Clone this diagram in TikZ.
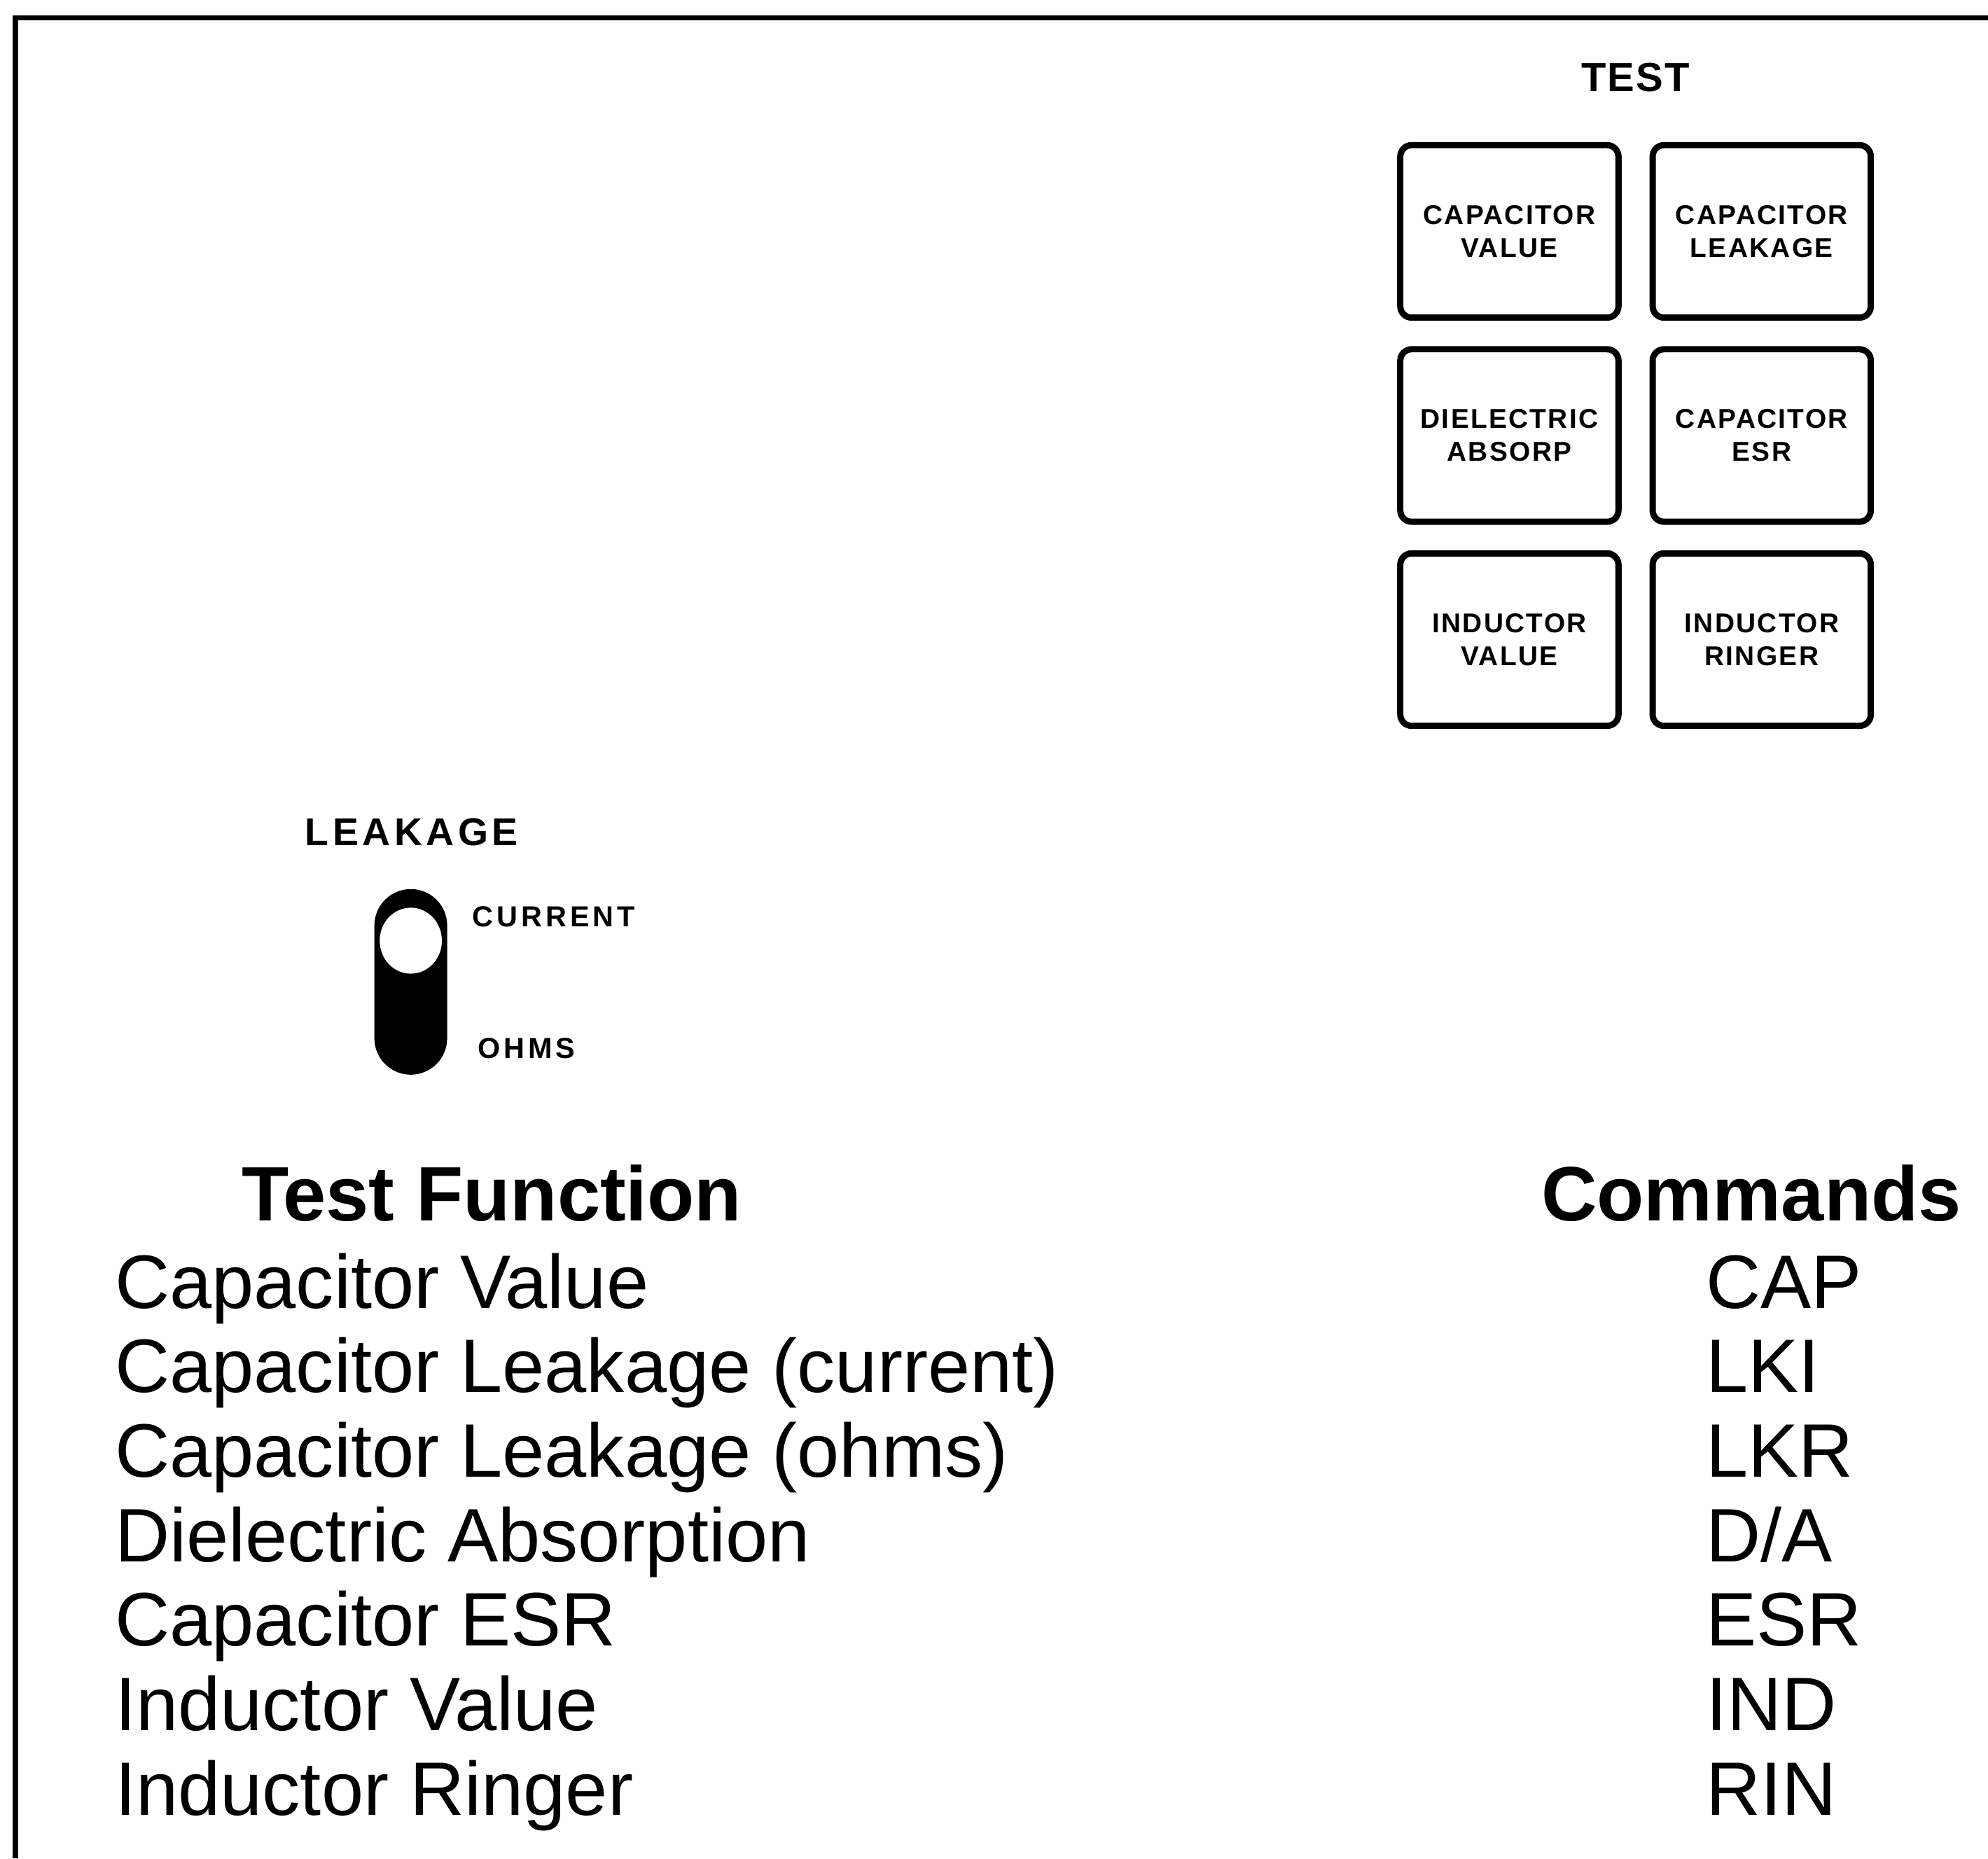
\documentclass[tikz,border=0pt]{standalone}
\usepackage{fontspec}
\setmainfont{Liberation Sans}
\usetikzlibrary{positioning}

\tikzset{
	button/.style={draw, line width=1.4pt, rounded corners=0.09cm, minimum width=1.72cm, minimum height=1.36cm, inner sep=0pt, align=center, font=\fontsize{6.1}{7.4}\selectfont\bfseries\addfontfeature{LetterSpace=6}},
	panel/.style={inner sep=0pt, anchor=base west, font=\bfseries\addfontfeature{LetterSpace=10}},
	entry/.style={inner sep=0pt, anchor=base west, font=\fontsize{17}{20}\selectfont},
	heading/.style={inner sep=0pt, anchor=base west, font=\fontsize{17.3}{20}\selectfont\bfseries}
}

\begin{document}
\begin{tikzpicture}[x=0.01cm, y=-0.01cm]
	\useasboundingbox (0,0) rectangle (1568,1466);
	\draw[line width=1.2pt] (12,1466) -- (12,14) -- (1568,14);

	% test buttons
	\node[panel, anchor=base, font=\fontsize{9.1}{11}\selectfont\bfseries\addfontfeature{LetterSpace=4}] (Test) at (1290,72) {TEST};
	\node[button] (CapValue) at (1190.5,182.5) {CAPACITOR\\VALUE};
	\node[button, right=0.22cm of CapValue] (CapLeakage) {CAPACITOR\\LEAKAGE};
	\node[button, below=0.2cm of CapValue] (Dielectric) {DIELECTRIC\\ABSORP};
	\node[button, right=0.22cm of Dielectric] (CapESR) {CAPACITOR\\ESR};
	\node[button, below=0.2cm of Dielectric] (IndValue) {INDUCTOR\\VALUE};
	\node[button, right=0.22cm of IndValue] (IndRinger) {INDUCTOR\\RINGER};

	% leakage switch
	\node[panel, font=\fontsize{8.7}{10}\selectfont\bfseries\addfontfeature{LetterSpace=10}] (Leakage) at (240,667) {LEAKAGE};
	\draw[fill=black, rounded corners=0.28cm] (296,702) rectangle (352,847);
	\fill[white] (324,742) ellipse [x radius=0.245cm, y radius=0.26cm];
	\node[panel, font=\fontsize{6.5}{8}\selectfont\bfseries\addfontfeature{LetterSpace=12}] (Current) at (372,731) {CURRENT};
	\node[panel, font=\fontsize{6.5}{8}\selectfont\bfseries\addfontfeature{LetterSpace=12}] (Ohms) at (376,835) {OHMS};

	% table
	\node[heading] (Function) at (190,963) {Test Function};
	\node[heading] (Commands) at (1215,963) {Commands};

	\node[entry] (FnCap) at (90,1032) {Capacitor Value};
	\node[entry] (FnLKI) at (90,1098) {Capacitor Leakage (current)};
	\node[entry] (FnLKR) at (90,1165) {Capacitor Leakage (ohms)};
	\node[entry] (FnDA) at (90,1232) {Dielectric Absorption};
	\node[entry] (FnESR) at (90,1298) {Capacitor ESR};
	\node[entry] (FnIND) at (90,1365) {Inductor Value};
	\node[entry] (FnRIN) at (90,1432) {Inductor Ringer};

	\node[entry] (CmdCap) at (1345,1032) {CAP};
	\node[entry] (CmdLKI) at (1345,1098) {LKI};
	\node[entry] (CmdLKR) at (1345,1165) {LKR};
	\node[entry] (CmdDA) at (1345,1232) {D/A};
	\node[entry] (CmdESR) at (1345,1298) {ESR};
	\node[entry] (CmdIND) at (1345,1365) {IND};
	\node[entry] (CmdRIN) at (1345,1432) {RIN};
\end{tikzpicture}
\end{document}
